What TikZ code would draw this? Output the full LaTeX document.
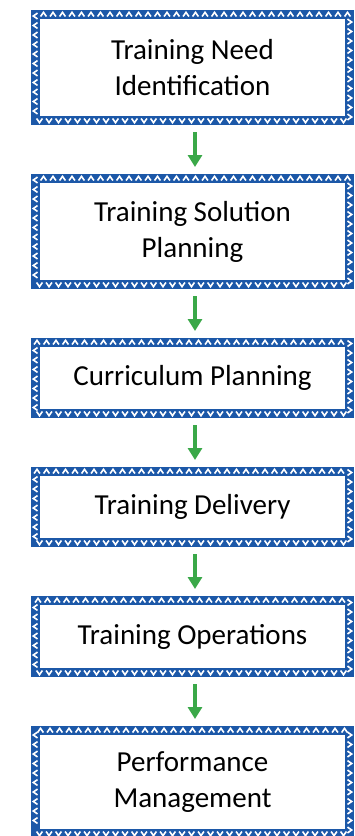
\documentclass[tikz,border=0pt]{standalone}
\usepackage{fontspec}
\setmainfont{Carlito}
\usepackage{tikz}
\usetikzlibrary{positioning}
\usetikzlibrary{arrows.meta}
\usetikzlibrary{decorations.markings}

\definecolor{bandblue}{RGB}{28,88,168}
\definecolor{arrowgreen}{RGB}{58,168,72}

\begin{document}
\begin{tikzpicture}[
    stagebox/.style={rectangle, draw=bandblue, line width=9pt, fill=white, outer sep=4.5pt,
        minimum width=314pt, align=center, font=\fontsize{29}{36}\selectfont,
        postaction={decorate, decoration={markings,
            mark=between positions 4pt and -4pt step 9.5pt with {\draw[white, line width=1.6pt] (-2.9pt,2pt) -- (0,-2.2pt) -- (2.9pt,2pt);}}}},
    flow/.style={arrowgreen, line width=4pt, -{Triangle[width=14pt,length=12pt]}, shorten <=7pt, shorten >=7pt}
]
    \useasboundingbox (0,0) rectangle (354pt,-836pt);

    % stages
    \node[stagebox, minimum height=106pt] (need) at (192.5pt,-67.5pt) {Training Need\\Identification};
    \node[stagebox, minimum height=106pt, below=49pt of need] (solution) {Training Solution\\Planning};
    \node[stagebox, minimum height=71pt, below=49pt of solution] (curriculum) {Curriculum Planning};
    \node[stagebox, minimum height=71pt, below=49pt of curriculum] (delivery) {Training Delivery};
    \node[stagebox, minimum height=72pt, below=49pt of delivery] (operations) {Training Operations};
    \node[stagebox, minimum height=103pt, below=49pt of operations] (performance) {Performance\\Management};

    % arrows
    \draw[flow] ([xshift=2.5pt]need.south) -- ([xshift=2.5pt]solution.north);
    \draw[flow] ([xshift=2.5pt]solution.south) -- ([xshift=2.5pt]curriculum.north);
    \draw[flow] ([xshift=2.5pt]curriculum.south) -- ([xshift=2.5pt]delivery.north);
    \draw[flow] ([xshift=2.5pt]delivery.south) -- ([xshift=2.5pt]operations.north);
    \draw[flow] ([xshift=2.5pt]operations.south) -- ([xshift=2.5pt]performance.north);
\end{tikzpicture}
\end{document}
